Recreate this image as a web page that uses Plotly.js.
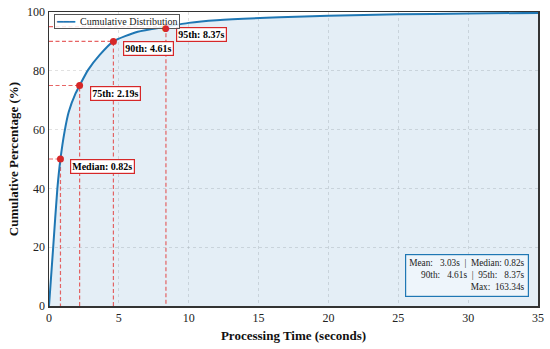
<!DOCTYPE html>
<html>
<head>
<meta charset="utf-8">
<script src="https://cdn.plot.ly/plotly-3.0.1.min.js"></script>
<style>html,body{margin:0;padding:0;background:#fff;}#chart{width:550px;height:349px;}</style>
</head>
<body>
<div id="chart"></div>
<script>
// Cumulative distribution
var cdfTime = [0, 0.3, 0.6, 0.82, 1.12, 1.41, 1.9, 2.19, 2.8, 3.63, 4.61, 6.35, 8.37, 10, 12, 16.5, 20, 25, 30, 35];
var cdfPct  = [0, 20, 40, 50, 59.5, 66, 72.3, 75, 80.3, 85.4, 90, 93.3, 95, 96.3, 97.2, 98.2, 98.7, 99.2, 99.5, 99.7];

// Percentile markers
var pctLabels = ["Median", "75th", "90th", "95th"];
var pctLevels = [50, 75, 90, 95];
var pctTimes  = [0.82, 2.19, 4.61, 8.37];

// Summary stats
var statMean = 3.03, statMedian = 0.82, stat90 = 4.61, stat95 = 8.37, statMax = 163.34;

var seriesName = "Cumulative Distribution";
var blue = "#1f77b4";
var red = "#d62728";
var serif = "Liberation Serif, Times New Roman, serif";
var traces = [];

// fill under the curve
traces.push({
  x: cdfTime, y: cdfPct, type: "scatter", mode: "lines",
  fill: "tozeroy", fillcolor: "rgba(31,119,180,0.12)",
  line: {color: "rgba(0,0,0,0)", width: 0, shape: "spline", smoothing: 0.6},
  showlegend: false, hoverinfo: "skip"
});

for (var i = 0; i < pctLevels.length; i++) {
  traces.push({
    x: [0, pctTimes[i], pctTimes[i]], y: [pctLevels[i], pctLevels[i], 0],
    type: "scatter", mode: "lines",
    line: {color: "#e34a4a", width: 1.2, dash: "4px,2.5px"},
    opacity: 0.85,
    showlegend: false, hoverinfo: "skip"
  });
}

traces.push({
  x: cdfTime, y: cdfPct, type: "scatter", mode: "lines",
  line: {color: blue, width: 2, shape: "spline", smoothing: 0.6},
  name: seriesName, showlegend: false
});

traces.push({
  x: pctTimes, y: pctLevels, type: "scatter", mode: "markers",
  marker: {color: red, size: 7}, showlegend: false
});

var annotations = [];
for (var j = 0; j < pctLevels.length; j++) {
  annotations.push({
    x: pctTimes[j], y: pctLevels[j], xref: "x", yref: "y",
    text: "<b>" + pctLabels[j] + ": " + pctTimes[j].toFixed(2) + "s</b>",
    showarrow: false, xanchor: "left", yanchor: "top", xshift: 10, yshift: 0,
    font: {family: serif, size: 10, color: "#000"},
    bgcolor: "#ffffff", bordercolor: red, borderwidth: 1.2, borderpad: 1
  });
}
var nb = "\u00a0";
var statText = "Mean:" + nb+nb+nb + statMean.toFixed(2) + "s" + nb+nb + "|" + nb+nb + "Median:" + nb + statMedian.toFixed(2) + "s<br>" +
  "90th:" + nb+nb+nb + stat90.toFixed(2) + "s" + nb+nb + "|" + nb+nb + "95th:" + nb+nb+nb + stat95.toFixed(2) + "s<br>" +
  "Max:" + nb+nb + statMax.toFixed(2) + "s";
annotations.push({
  x: 1, y: 0, xref: "paper", yref: "paper", xanchor: "right", yanchor: "bottom",
  xshift: -9, yshift: 9, showarrow: false, align: "right",
  text: statText, font: {family: serif, size: 9.3, color: "#222"},
  bgcolor: "#eef5fb", bordercolor: blue, borderwidth: 1.2, borderpad: 3
});
// legend box (drawn after the 95th label so it sits above it, as in the reference)
annotations.push({
  x: 0.0102, y: 0.993, xref: "paper", yref: "paper", xanchor: "left", yanchor: "top",
  showarrow: false, align: "left",
  text: "<span style='color:" + blue + ";font-family:DejaVu Sans Mono'>\u2501\u2501\u2501</span>" + nb + nb + seriesName,
  font: {family: serif, size: 10, color: "#222"},
  bgcolor: "rgba(255,255,255,0.85)", bordercolor: "#555", borderwidth: 1, borderpad: 1
});
// the 95th percentile dot sits on top of the legend frame in the reference
var last = pctLevels.length - 1;
annotations.push({
  x: pctTimes[last], y: pctLevels[last], xref: "x", yref: "y",
  text: "\u25CF", showarrow: false, xanchor: "center", yanchor: "middle", yshift: -1,
  font: {family: "DejaVu Sans", size: 9, color: red}
});

var layout = {
  width: 550, height: 349,
  margin: {l: 49, r: 12, t: 12, b: 43},
  paper_bgcolor: "#ffffff", plot_bgcolor: "#ffffff",
  font: {family: serif, size: 12, color: "#222"},
  xaxis: {
    range: [0, 35], tickvals: [0,5,10,15,20,25,30,35],
    showgrid: true, gridcolor: "rgba(180,180,180,0.5)", griddash: "dot", gridwidth: 0.8,
    zeroline: false, showline: true, linecolor: "#333", linewidth: 1.5, mirror: true,
    ticks: "",
    tickfont: {family: serif, size: 12, color: "#222"},
    title: {text: "<b>Processing Time (seconds)</b>", font: {family: serif, size: 13, color: "#111"}, standoff: 7}
  },
  yaxis: {
    range: [0, 100], tickvals: [0,20,40,60,80,100],
    showgrid: true, gridcolor: "rgba(180,180,180,0.5)", griddash: "dot", gridwidth: 0.8,
    zeroline: false, showline: true, linecolor: "#333", linewidth: 1.5, mirror: true,
    ticks: "",
    tickfont: {family: serif, size: 12, color: "#222"},
    title: {text: "<b>Cumulative Percentage (%)</b>", font: {family: serif, size: 13, color: "#111"}, standoff: 5}
  },
  annotations: annotations,
  showlegend: false
};

Plotly.newPlot("chart", traces, layout, {displayModeBar: false, staticPlot: true});
</script>
</body>
</html>
